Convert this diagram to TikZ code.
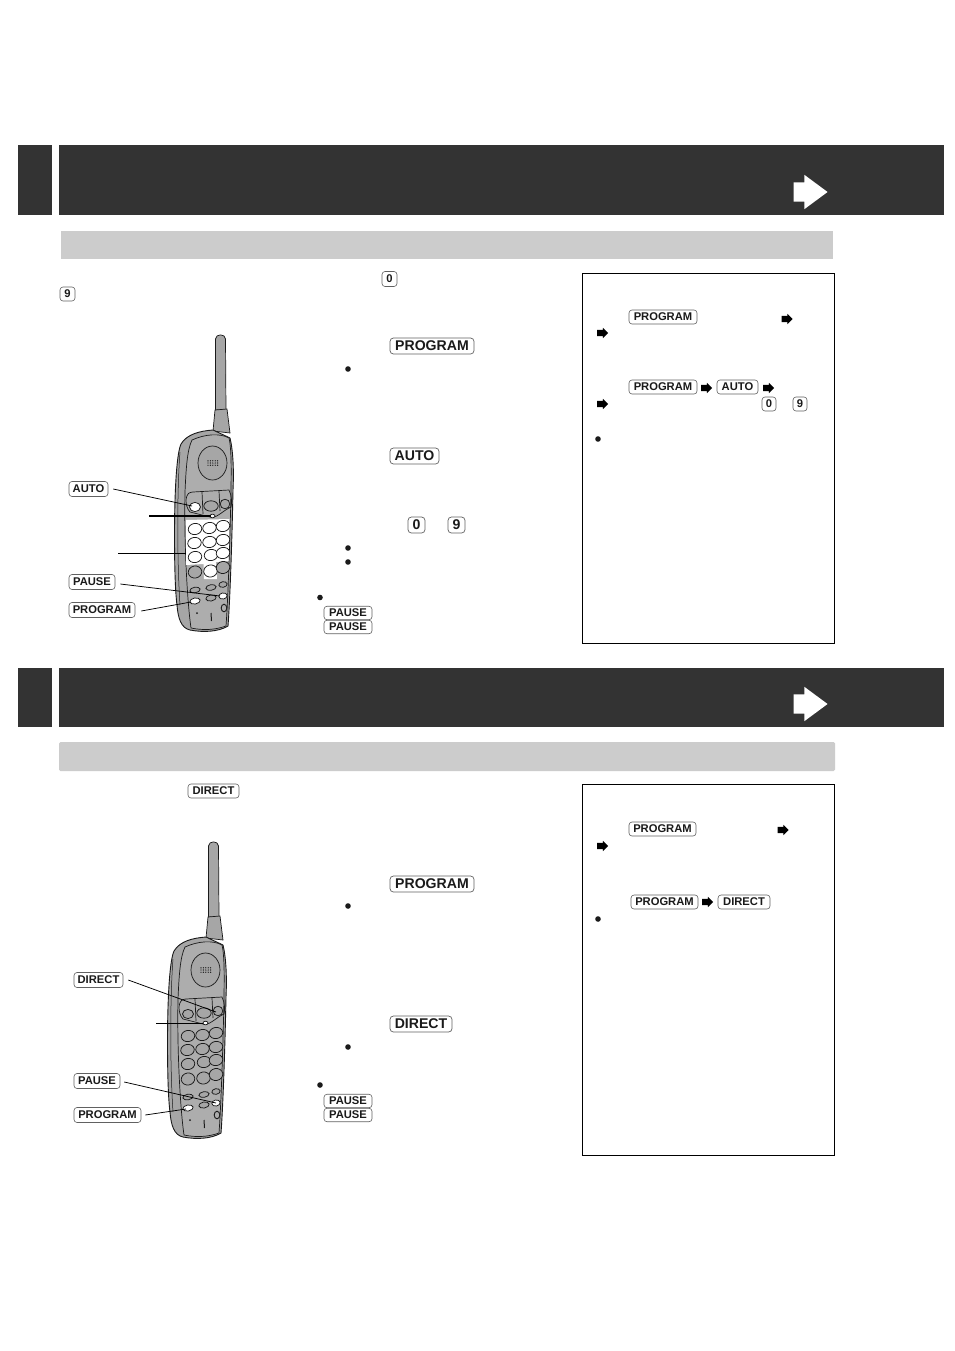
\documentclass[tikz,border=0pt]{standalone}
\usepackage{fontspec}
\setmainfont{Liberation Sans}
\usetikzlibrary{shapes.arrows}
\definecolor{band}{HTML}{333333}
\definecolor{pale}{HTML}{CCCCCC}
\definecolor{body}{HTML}{A6A6A6}
\definecolor{face}{HTML}{ADADAD}
\definecolor{ink}{HTML}{1A1A1A}
\tikzset{
  x=1pt,y=-1pt,
  keycap/.style={draw=black!62,line width=.6pt,rounded corners=3pt,inner sep=0pt,font=\bfseries\fontsize{11.2}{12}\selectfont,text=ink},
  bigcap/.style={keycap,font=\bfseries\fontsize{14.1}{15}\selectfont,line width=.7pt,rounded corners=3.4pt},
  dot/.style={circle,fill=ink,inner sep=0pt,minimum size=5.6pt},
  smallarrow/.style={single arrow,fill=black,inner xsep=0pt,inner ysep=3pt,minimum height=11pt,minimum width=10pt,single arrow head extend=2pt,single arrow tip angle=90},
  bigarrow/.style={single arrow,fill=white,inner xsep=0pt,inner ysep=9.5pt,minimum height=34pt,minimum width=34pt,single arrow head extend=7.5pt,single arrow tip angle=73},
  leader/.style={draw=black,line width=.75pt},
  phoneline/.style={draw=ink,line width=.7pt},
  phonekey/.style={draw=ink,line width=.75pt,fill=#1},
  phonekey/.default=white
}
\newcommand{\phonedraw}[1]{%
  % antenna
  \filldraw[fill=body,phoneline] (215.5,410) -- (215.5,339) .. controls (215.5,333.5) and (225.5,333.5) .. (225.5,339) -- (226,410) -- cycle;
  \filldraw[fill=body,phoneline] (213,431) -- (215,410) -- (227,409) -- (230,433) -- cycle;
  % body
  \filldraw[fill=body,draw=ink,line width=.9pt] (213,430) .. controls (200,431) and (187,434) .. (181,444)
    .. controls (176,455) and (174.5,500) .. (174.5,535)
    .. controls (174.5,560) and (175,590) .. (177,605)
    .. controls (178,618) and (181,628) .. (190,630)
    .. controls (203,632.5) and (218,632) .. (228,626)
    .. controls (230,600) and (232,540) .. (233,490)
    .. controls (234,470) and (233,450) .. (230,438) -- cycle;
  \draw[phoneline,line width=.5pt] (180,452) .. controls (177,490) and (177,560) .. (180,605);
  % front face
  \filldraw[fill=face,phoneline] (192,440) .. controls (205,434) and (220,433) .. (229,438)
    .. controls (232,450) and (231,480) .. (231,492)
    .. controls (230,540) and (228,600) .. (226,626)
    .. controls (215,630) and (203,630.5) .. (191,628)
    .. controls (187,600) and (184,540) .. (185,492)
    .. controls (186,470) and (187,450) .. (192,440) -- cycle;
  % speaker
  \filldraw[fill=body,phoneline] (212.5,463) ellipse [x radius=14.5,y radius=17];
  \foreach \hx in {208,210.4,...,218} \foreach \hy in {460.8,463,465.2} \fill[ink] (\hx,\hy) circle [radius=.7];
  % top panel
  \draw[phoneline] (186,500) .. controls (187,493) and (189,492.5) .. (193,492) -- (229,490) .. controls (232,496) and (232,503) .. (231,507)
     .. controls (224,510) and (218,517) .. (212,517.5) -- (190,512) .. controls (187,509) and (186,504) .. (186,500);
  \draw[phoneline] (202,492) -- (203,514) (219,491) -- (220,511);
  \filldraw[phonekey=#1] (195,507) ellipse [x radius=5.5,y radius=4.6];
  \filldraw[phonekey=body] (211,506) ellipse [x radius=7.2,y radius=5.2];
  \filldraw[phonekey=body] (225,504) ellipse [x radius=4.8,y radius=4.8];
  \filldraw[phonekey=white] (212.5,516) ellipse [x radius=2.5,y radius=1.8];
}
\newcommand{\phonekeys}[3]{%
  \foreach \kx/\ky in {195/529,209.5/528,223/526,194.5/543,209.5/542,223/540,195/557,211/555,223/553}
    \filldraw[phonekey=#1] (\kx,\ky) ellipse [x radius=6.8,y radius=5.6,rotate=10];
  \filldraw[phonekey=#2] (195,572) ellipse [x radius=6.8,y radius=6,rotate=10];
  \filldraw[phonekey=#1] (210.5,571) ellipse [x radius=6.8,y radius=6,rotate=10];
  \filldraw[phonekey=#2] (223,567.5) ellipse [x radius=6.8,y radius=6,rotate=10];
  \filldraw[phonekey=body] (195,590) ellipse [x radius=5.2,y radius=2.8,rotate=10];
  \filldraw[phonekey=body] (211,587.5) ellipse [x radius=5.2,y radius=2.8,rotate=10];
  \filldraw[phonekey=body] (223,584.5) ellipse [x radius=4.2,y radius=2.8,rotate=10];
  \filldraw[phonekey=#3] (195,601) ellipse [x radius=5.2,y radius=3,rotate=10];
  \filldraw[phonekey=body] (211,598) ellipse [x radius=5.2,y radius=3,rotate=10];
  \filldraw[phonekey=white] (223,596) ellipse [x radius=4.2,y radius=3,rotate=10];
  \fill[ink] (197,613) circle [radius=1];
  \draw[phoneline,line width=1pt] (211,613) -- (211.5,621);
  \draw[phoneline,line width=.9pt] (224,608) ellipse [x radius=2.8,y radius=3.8];
}
\begin{document}
\begin{tikzpicture}
\useasboundingbox[fill=white] (0,0) rectangle (954,1351);
% section bands
\fill[band] (18,145) rectangle (52,215);
\fill[band] (59,145) rectangle (944,215);
\fill[pale] (61,231) rectangle (833,259);
\fill[band] (18,668) rectangle (52,727);
\fill[band] (59,668) rectangle (944,727);
\fill[pale,rounded corners=1.5pt] (59,742) rectangle (835,771);
\node[bigarrow] (arrowa) at (804,192) {};
\node[bigarrow] (arrowb) at (804,704) {};
% boxes
\draw[black,line width=.9pt] (582.5,273.5) rectangle (834.5,643.5);
\draw[black,line width=.9pt] (582.5,784.5) rectangle (834.5,1155.5);
% phone 1
\phonedraw{white}
\fill[white] (186,520) -- (229.5,519) -- (228.5,561) -- (216,562) -- (217,579) -- (204,579) -- (203.5,564) -- (186,565) -- cycle;
\phonekeys{white}{body}{white}
% phone 2
\begin{scope}[shift={(-7,507)}]
\phonedraw{body}
\phonekeys{body}{body}{white}
\end{scope}
% top line keys
\node[keycap,minimum width=15pt,minimum height=15pt] (zeroa) at (389.5,279) {0};
\node[keycap,minimum width=15pt,minimum height=14pt] (ninea) at (67.5,294) {9};
% phone 1 labels
\node[keycap,minimum width=39pt,minimum height=15pt] (lauto) at (88.5,489) {AUTO};
\node[keycap,minimum width=46pt,minimum height=15pt] (lpausea) at (92,582) {PAUSE};
\node[keycap,minimum width=66pt,minimum height=15pt] (lproga) at (102,610) {PROGRAM};
\coordinate (cauto) at (192,506);
\coordinate (cledafrom) at (149,516);
\coordinate (cledato) at (211,516);
\coordinate (ckeysfrom) at (118,553);
\coordinate (ckeysto) at (186,553);
\coordinate (cpausea) at (220,596);
\coordinate (cproga) at (191,602);
\draw[leader] (lauto.east) ++(5,0) coordinate (sauto) -- (cauto);
\draw[leader,line width=1.2pt] (cledafrom) -- (cledato);
\draw[leader] (ckeysfrom) -- (ckeysto);
\draw[leader] (lpausea.east) ++(5,2) coordinate (spausea) -- (cpausea);
\draw[leader] (lproga.east) ++(6,1) coordinate (sproga) -- (cproga);
% steps section 1
\node[bigcap,minimum width=84pt,minimum height=16pt] (sprog) at (432,346) {PROGRAM};
\node[dot] (b1) at (348,369) {};
\node[bigcap,minimum width=49pt,minimum height=16pt] (sauto2) at (414.5,456) {AUTO};
\node[bigcap,minimum width=17pt,minimum height=16pt] (szero) at (416.5,525) {0};
\node[bigcap,minimum width=17pt,minimum height=16pt] (snine) at (456.5,525) {9};
\node[dot] (b2) at (348,548) {};
\node[dot] (b3) at (348,562) {};
\node[dot] (b4) at (320,597.5) {};
\node[keycap,minimum width=48pt,minimum height=13.5pt] (pa1) at (348,613) {PAUSE};
\node[keycap,minimum width=48pt,minimum height=13.5pt] (pa2) at (348,627) {PAUSE};
% box 1
\node[keycap,minimum width=68pt,minimum height=14pt] (bprog1) at (663,317) {PROGRAM};
\node[smallarrow] (ar1) at (785.5,319) {};
\node[smallarrow] (ar2) at (601,333) {};
\node[keycap,minimum width=68pt,minimum height=14pt] (bprog2) at (663,387) {PROGRAM};
\node[smallarrow] (ar3) at (705,388) {};
\node[keycap,minimum width=41pt,minimum height=14pt] (bauto) at (737.5,387) {AUTO};
\node[smallarrow] (ar4) at (767,388) {};
\node[smallarrow] (ar5) at (601,404) {};
\node[keycap,minimum width=14pt,minimum height=14pt] (bzero) at (769,404) {0};
\node[keycap,minimum width=14pt,minimum height=14pt] (bnine) at (800,404) {9};
\node[dot] (b5) at (598,439) {};
% section 2
\node[keycap,minimum width=51pt,minimum height=14pt] (tdirect) at (213.5,791) {DIRECT};
\node[keycap,minimum width=49pt,minimum height=15pt] (ldirect) at (98.5,980) {DIRECT};
\node[keycap,minimum width=46pt,minimum height=15pt] (lpauseb) at (97,1081) {PAUSE};
\node[keycap,minimum width=67pt,minimum height=15pt] (lprogb) at (107.5,1115) {PROGRAM};
\coordinate (cdirect) at (216,1012);
\coordinate (cledbfrom) at (156,1023);
\coordinate (cledbto) at (203,1023);
\coordinate (cpauseb) at (216,1103);
\coordinate (cprogb) at (186,1109);
\draw[leader] (ldirect.east) ++(5,0) coordinate (sdirect) -- (cdirect);
\draw[leader] (cledbfrom) -- (cledbto);
\draw[leader] (lpauseb.east) ++(4,1) coordinate (spauseb) -- (cpauseb);
\draw[leader] (lprogb.east) ++(4,0) coordinate (sprogb) -- (cprogb);
\node[bigcap,minimum width=84pt,minimum height=16pt] (sprogb2) at (432,884) {PROGRAM};
\node[dot] (b6) at (348,906) {};
\node[bigcap,minimum width=62pt,minimum height=16pt] (sdirect2) at (421,1024) {DIRECT};
\node[dot] (b7) at (348,1047) {};
\node[dot] (b8) at (320,1085) {};
\node[keycap,minimum width=48pt,minimum height=13.5pt] (pb1) at (348,1101) {PAUSE};
\node[keycap,minimum width=48pt,minimum height=13.5pt] (pb2) at (348,1115) {PAUSE};
% box 2
\node[keycap,minimum width=67pt,minimum height=14pt] (cprog1) at (662.5,829) {PROGRAM};
\node[smallarrow] (ar6) at (781.5,830) {};
\node[smallarrow] (ar7) at (601,846) {};
\node[keycap,minimum width=67pt,minimum height=14pt] (cprog2) at (664.5,902) {PROGRAM};
\node[smallarrow] (ar8) at (706,902) {};
\node[keycap,minimum width=52pt,minimum height=14pt] (cdirect2) at (744,902) {DIRECT};
\node[dot] (b9) at (598,919) {};
\end{tikzpicture}
\end{document}
